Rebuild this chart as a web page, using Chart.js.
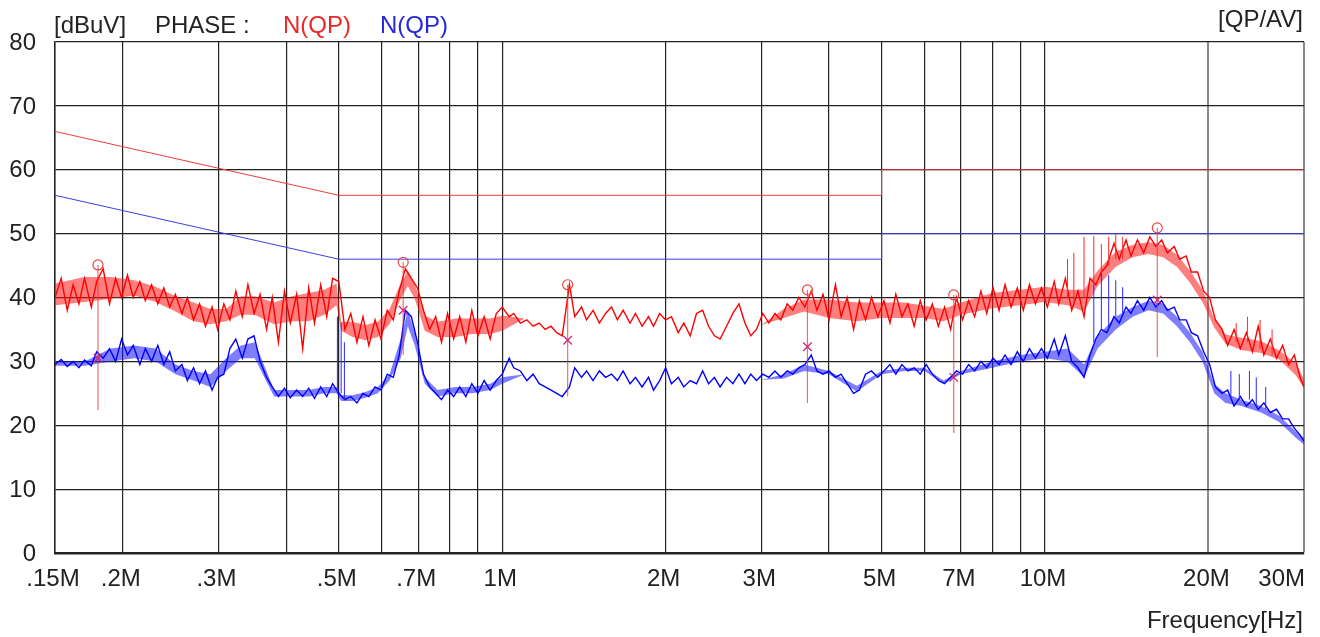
<!DOCTYPE html>
<html lang="en">
<head>
<meta charset="UTF-8">
<title>Conducted emission N(QP)</title>
<script src="https://cdn.jsdelivr.net/npm/chart.js"></script>
<style>
  body { margin: 0; background: #fff; }
</style>
</head>
<body>
<canvas id="emi" width="1320" height="637"></canvas>
<script>
// sweep frequencies, MHz
const freqMHz = [
  0.150,0.154,0.158,0.162,0.166,0.170,0.175,0.179,0.184,0.189,
  0.194,0.199,0.204,0.209,0.215,0.220,0.226,0.232,0.238,0.244,
  0.250,0.257,0.263,0.270,0.277,0.284,0.292,0.299,0.307,0.315,
  0.323,0.332,0.340,0.349,0.358,0.368,0.377,0.387,0.397,0.407,
  0.418,0.429,0.440,0.451,0.463,0.475,0.487,0.500,0.513,0.526,
  0.540,0.554,0.568,0.583,0.598,0.614,0.630,0.646,0.663,0.680,
  0.698,0.716,0.735,0.754,0.773,0.793,0.814,0.835,0.857,0.879,
  0.902,0.926,0.950,0.975,
  1.00,1.03,1.05,1.08,1.11,1.14,1.17,1.20,1.23,1.26,
  1.29,1.33,1.36,1.40,1.43,1.47,1.51,1.55,1.59,1.63,
  1.67,1.72,1.76,1.81,1.86,1.90,1.95,2.00,2.05,2.11,
  2.16,2.22,2.28,2.34,2.40,2.46,2.52,2.59,2.66,2.73,
  2.80,2.87,2.94,3.02,3.10,3.18,3.26,3.35,3.43,3.52,
  3.61,3.71,3.80,3.90,4.00,4.11,4.21,4.32,4.44,4.55,
  4.67,4.79,4.92,5.05,5.18,5.31,5.45,5.59,5.74,5.89,
  6.04,6.20,6.36,6.53,6.70,6.87,7.05,7.23,7.42,7.62,
  7.81,8.02,8.23,8.44,8.66,8.89,9.12,9.36,9.60,9.85,
  10.1,10.4,10.6,10.9,11.2,11.5,11.8,12.1,12.4,12.7,
  13.0,13.4,13.7,14.1,14.4,14.8,15.2,15.6,16.0,16.4,
  16.8,17.3,17.7,18.2,18.6,19.1,19.6,20.1,20.6,21.2,
  21.7,22.3,22.9,23.5,24.1,24.7,25.3,26.0,26.7,27.4,
  28.1,28.8,29.5,30.0
];

// red trace (dBuV)
const redTrace = [
  40,43,38,42,39,43,38.5,42.5,44.5,39,
  43,40,43.5,40,42.5,39.5,42,39,41.5,38.5,
  40.5,37.5,40,36.5,39,35.5,38.5,35,39,36.5,
  41,37,42,37.5,40.5,35,40,33,41,36,
  40.5,32,41.5,36,42,37,43,42.5,35,37.5,
  33,37,32.5,36.5,33.5,38,36.5,41,44.5,43,
  41.5,38,35,37,33,37.5,33.5,37,33,38,
  34,37,33.5,37.5,
  38.5,37,37.5,36,36.5,35.5,36,35,35.5,34.5,
  34,42,37,38.5,36.5,38,36,37.5,38.5,36.5,
  38,36,37.5,35.5,37,35.5,37.5,36.5,37,34.5,
  36,34,37.5,38,35.5,34,33.5,35.5,37.5,39,
  36,34,35,37.5,36,37.5,36.5,39,38,40,
  38.5,41,38,40.5,36.5,42,37,40,35,39.5,
  36.5,40,37,39.5,36,40.5,37,39,35.5,39.5,
  36.5,39,35.5,38.5,35,40,36.5,39.5,37,41,
  37.5,41.5,38,42,38.5,41.5,38,42,39,41.5,
  38.5,42.5,39,43,38,41,37,43,42,44,
  45,48.5,46,49,46.5,49,47,49.5,48,49,
  47,48,46,46.5,44,44,41,40,36.5,35,
  32.5,35,32,34.5,31.5,35.5,31,33.5,30.5,32.5,
  29.5,31,27.5,26
];

// blue trace (dBuV)
const blueTrace = [
  29.5,30.3,29.2,30,29,30.2,29.3,31.5,30.5,32,
  30,33.5,31,32.5,29.5,32,30,32.5,29.5,31.5,
  28.5,29.5,27,29,26.5,28.5,25.5,27.5,28,32,
  33.5,30.5,33.5,34,30,27.5,26,24.5,25.8,24.3,
  25.5,24.5,25.8,24.2,26,24.5,26.5,25,24,24.5,
  23.5,25,24.5,26,25.5,28,27.5,31,38,37,
  33,28,26,25,24,25.5,24.5,26,24.5,26.5,
  25,27,25.5,27,
  28,30.5,29,28.5,27,28,26.5,26,25.5,25,
  24.5,26,29,27.5,28.5,27,28.5,27.5,28,27,
  28.5,26.5,27.5,26,27.5,25.5,27,29,26.5,27.5,
  26,27,26.5,28.5,26.5,27.5,26,27.5,26.5,28,
  26.5,28,27,28,27.5,28.5,27.5,28.5,28,29,
  29.5,31,28.5,28,28.5,27.5,28,26.5,25,25.5,
  28,28.5,27.5,28.5,29.5,28,29.5,28.5,29,28,
  29.5,28,27,26.5,27.5,28.5,28,29.5,28.5,30,
  29,30.5,29.5,31,29.5,31.5,30,32,30.5,32,
  30.5,33.5,31,34,30,29,27.5,31,33.5,35,
  34.5,37,36,38.5,37.5,39.5,38,40,38.5,39.5,
  38,38.5,36.5,36.5,34.5,34,31.5,29.5,26,25,
  25.5,23,24.5,23,24,22.5,23.5,22,22.5,21,
  21,19.5,18.5,17.5
];

// dense core of the noise band of each trace (zero width where the trace is thin)
const bandFreq = [
  0.15,0.17,0.19,0.21,0.23,0.25,0.27,0.29,0.31,0.33,
  0.35,0.38,0.41,0.44,0.47,0.495,0.505,0.53,0.56,0.59,
  0.62,0.65,0.67,0.69,0.72,0.76,0.82,0.88,0.95,1.0,
  1.1,1.2,1.3,1.5,1.7,2.0,2.3,2.6,3.0,3.3,
  3.6,4.0,4.5,5.0,5.5,6.0,6.5,7.0,8.0,9.0,
  10,11,11.8,12.5,13.5,14.5,15.5,16.5,17.5,18.5,
  19.5,20.5,21.5,23,25,27,29,30
];
const redHi = [
  42.2,43.2,43.2,42.7,41.7,40.2,39.2,38.2,38.2,40.2,
  40.2,39.2,40.2,40.7,41.2,42.2,36.2,36.2,35.7,36.2,
  38.2,42.2,44.2,42.2,37.2,36.2,36.7,36.7,36.7,37.2,
  36.7,35.5,34.4,37,36.8,36.3,36.5,35.2,35.7,38.2,
  39.7,39.7,39.2,39.2,39.2,38.7,38.2,39.2,40.7,41.2,
  41.7,41.2,41.2,44.2,47.2,48.2,48.7,48.2,46.7,44.2,
  41.2,36.7,34.2,33.7,33.2,31.7,29.7,27.2
];
const redLo = [
  38.8,39.3,39.8,40.3,39.3,37.8,36.3,35.8,36.3,37.3,
  37.3,35.8,36.3,36.3,37.3,38.8,34.8,33.8,33.3,33.8,
  35.8,39.8,41.8,39.8,34.8,33.8,33.8,34.3,34.3,34.8,
  36.7,35.5,34.4,37,36.8,36.3,36.5,35.2,35.7,36.8,
  37.8,36.8,36.3,36.8,36.8,36.8,36.3,37.3,38.3,38.8,
  39.3,38.8,37.8,41.8,44.8,46.3,46.8,46.3,44.8,42.3,
  39.3,35.3,32.8,31.8,31.3,30.3,27.8,25.8
];
const blueHi = [
  30,30,32,32.5,32,29.5,28.5,28,30.5,32.5,
  33,25.5,25.5,25.5,26,26,24.7,24.7,25.2,26,
  28,33.5,38,34.5,27.5,25.5,26,26,26.5,27.5,
  28,26,24.75,27.6,27.1,26.9,26.9,26.6,27.1,28,
  29.5,28.5,26.2,28.5,29,29,27,28.5,30,31,
  31.5,32,29.5,34,37,38.5,39.5,39,37,34.5,
  31.5,26.5,25,24,23,21.5,19,18
];
const blueLo = [
  29.3,29.3,30,30.5,30,28,27,26,28.5,30.5,
  30.5,24.5,24.5,24.5,25,25,23.8,23.8,24.3,25,
  27,30.5,35.5,32.5,26.5,24.5,25,25,25.5,26.5,
  28,26,24.75,27.6,27.1,26.9,26.9,26.6,27.1,27.3,
  28.5,28,25.3,28,28.5,28.5,26.5,28,29,30,
  30.5,30,27.5,32,35,37,38,37.5,35.5,33,
  30,25,23.5,23,22,20.5,18,17
];

// narrow spikes standing out of the traces
const redSpikeFreq = [11.0, 11.3, 11.8, 12.3, 12.7, 13.1, 13.5, 13.9, 22.5, 23.6, 24.9, 26.2];
const redSpikeBase = [40, 39, 40, 42, 43, 45, 46, 46, 33, 33, 32, 31];
const redSpikeTop  = [46, 47, 49.5, 49.6, 48.4, 49.5, 50, 49.5, 36, 37, 36.5, 35];
const blueSpikeFreq = [0.497, 0.505, 0.512, 12.3, 12.7, 13.1, 13.5, 13.9, 22.0, 22.8, 23.8, 24.5, 25.5];
const blueSpikeBase = [25, 25, 24, 33, 35, 35, 37, 37.5, 24, 24, 24, 23, 22.5];
const blueSpikeTop  = [37, 36, 33, 42, 43.8, 43.5, 42.7, 41.6, 28.5, 28, 28.5, 27.5, 26];

// limit lines
const limitFreq = [0.15, 0.5, 5, 5, 30];
const qpLimit = [66, 56, 56, 60, 60];
const avLimit = [56, 46, 46, 50, 50];

// peak markers
const markerFreq = [0.18, 0.657, 1.32, 3.65, 6.79, 16.1];
const markerQP   = [45.1, 45.5, 42.0, 41.2, 40.4, 50.9];
const markerAV   = [30.5, 38.0, 33.3, 32.3, 27.5, 39.6];
const markerLow  = [22.4, 31.0, 24.5, 23.5, 18.8, 30.7];

// axes
const gridFreq = [0.15,0.2,0.3,0.4,0.5,0.6,0.7,0.8,0.9,1,2,3,4,5,6,7,8,9,10,20,30];
const xLabelFreq = [0.15,0.2,0.3,0.5,0.7,1,2,3,5,7,10,20,30];
const xLabelText = ['.15M','.2M','.3M','.5M','.7M','1M','2M','3M','5M','7M','10M','20M','30M'];
const yLabels = [0,10,20,30,40,50,60,70,80];

const FONT = '"Liberation Sans", Arial, sans-serif';

function pts(xs, ys) {
  return xs.map((x, i) => ({ x: x, y: ys[i] }));
}
function segs(xs, lo, hi) {
  const out = [];
  xs.forEach((x, i) => {
    out.push({ x: x, y: lo[i] }, { x: x, y: hi[i] }, { x: x, y: null });
  });
  return out;
}

const textPlugin = {
  id: 'texts',
  afterDraw(chart) {
    const ctx = chart.ctx;
    const xs = chart.scales.x, ys = chart.scales.y;
    ctx.save();
    ctx.font = '24px ' + FONT;
    ctx.fillStyle = '#222';
    ctx.textBaseline = 'middle';
    ctx.textAlign = 'right';
    yLabels.forEach(v => ctx.fillText(String(v), 36, ys.getPixelForValue(v) + 1));
    xLabelFreq.forEach((f, i) => {
      const last = i === xLabelFreq.length - 1;
      ctx.textAlign = last ? 'right' : 'center';
      ctx.fillText(xLabelText[i], last ? 1305 : xs.getPixelForValue(f) - 2, 579);
    });
    ctx.textAlign = 'left';
    ctx.fillText('[dBuV]', 54, 26);
    ctx.fillText('PHASE :', 155, 26);
    ctx.fillStyle = 'rgb(235,40,40)';
    ctx.fillText('N(QP)', 283, 26);
    ctx.fillStyle = 'rgb(40,40,215)';
    ctx.fillText('N(QP)', 380, 26);
    ctx.fillStyle = '#222';
    ctx.textAlign = 'right';
    ctx.fillText('[QP/AV]', 1303, 20);
    ctx.fillText('Frequency[Hz]', 1303, 621);
    ctx.restore();
  }
};

new Chart(document.getElementById('emi'), {
  type: 'line',
  data: {
    datasets: [
      // 0..2 markers
      { data: segs(markerFreq, markerLow, markerQP), borderColor: 'rgba(230,50,50,0.7)', borderWidth: 1.2, pointRadius: 0, spanGaps: false, order: 0 },
      { data: pts(markerFreq, markerQP), showLine: false, pointStyle: 'circle', pointRadius: 5, borderColor: 'rgb(235,70,70)', backgroundColor: 'rgba(0,0,0,0)', pointBorderWidth: 1.2, order: 0 },
      { data: pts(markerFreq, markerAV), showLine: false, pointStyle: 'crossRot', pointRadius: 6, borderColor: 'rgb(200,40,120)', pointBorderWidth: 1.3, order: 0 },
      // 3..6 blue
      { data: segs(blueSpikeFreq, blueSpikeBase, blueSpikeTop), borderColor: 'rgb(40,40,255)', borderWidth: 1, pointRadius: 0, spanGaps: false, order: 1 },
      { data: pts(freqMHz, blueTrace), borderColor: 'rgb(0,0,255)', borderWidth: 1.4, pointRadius: 0, tension: 0, order: 1 },
      { data: pts(bandFreq, blueLo), borderWidth: 0, borderColor: 'rgba(0,0,0,0)', pointRadius: 0, order: 1 },
      { data: pts(bandFreq, blueHi), borderWidth: 0, borderColor: 'rgba(0,0,0,0)', pointRadius: 0, fill: { target: 5 }, backgroundColor: 'rgba(20,20,255,0.55)', order: 1 },
      // 7..10 red
      { data: segs(redSpikeFreq, redSpikeBase, redSpikeTop), borderColor: 'rgb(255,40,40)', borderWidth: 1, pointRadius: 0, spanGaps: false, order: 2 },
      { data: pts(freqMHz, redTrace), borderColor: 'rgb(255,0,0)', borderWidth: 1.4, pointRadius: 0, tension: 0, order: 2 },
      { data: pts(bandFreq, redLo), borderWidth: 0, borderColor: 'rgba(0,0,0,0)', pointRadius: 0, order: 2 },
      { data: pts(bandFreq, redHi), borderWidth: 0, borderColor: 'rgba(0,0,0,0)', pointRadius: 0, fill: { target: 9 }, backgroundColor: 'rgba(255,20,20,0.55)', order: 2 },
      // limits
      { data: pts(limitFreq, qpLimit), borderColor: 'rgb(235,60,60)', borderWidth: 1, pointRadius: 0, order: 3 },
      { data: pts(limitFreq, avLimit), borderColor: 'rgb(60,60,225)', borderWidth: 1, pointRadius: 0, order: 3 }
    ]
  },
  options: {
    responsive: false,
    animation: false,
    events: [],
    layout: { padding: { top: 42, right: 16, left: 0, bottom: 0 } },
    plugins: { legend: { display: false }, tooltip: { enabled: false } },
    scales: {
      x: {
        type: 'logarithmic',
        min: 0.15,
        max: 30,
        afterBuildTicks: s => { s.ticks = gridFreq.map(v => ({ value: v })); },
        afterFit: s => { s.height = 84; },
        ticks: { display: false },
        grid: {
          drawTicks: false,
          color: c => (c.tick && c.tick.value >= 20) ? '#8a8a8a' : '#222',
          lineWidth: c => (c.tick && c.tick.value >= 20) ? 2 : 1.2
        },
        border: { display: true, color: '#222', width: 2.5 }
      },
      y: {
        min: 0,
        max: 80,
        ticks: { display: false, stepSize: 10 },
        afterFit: s => { s.width = 55; },
        grid: { drawTicks: false, color: '#222', lineWidth: 1.2 },
        border: { display: true, color: '#222', width: 1.5 }
      }
    }
  },
  plugins: [textPlugin]
});
</script>
</body>
</html>
